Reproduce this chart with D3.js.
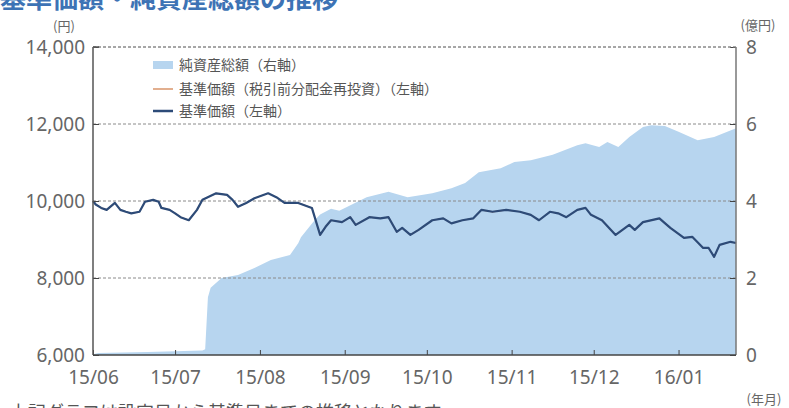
<html>
<head><meta charset="utf-8"></head>
<style>
  html, body { margin: 0; background: #fff; }
  svg { display: block; font-family: "Noto Sans CJK JP", "Noto Sans", sans-serif; }
</style>
<body>
<svg width="789" height="408"></svg>
<script src="https://cdnjs.cloudflare.com/ajax/libs/d3/7.8.5/d3.min.js"></script>
<script>
  // 基準価額（円）
  const navDates = ["2015-06-01","2015-06-02","2015-06-04","2015-06-06","2015-06-09","2015-06-11","2015-06-13","2015-06-15",
    "2015-06-18","2015-06-20","2015-06-23","2015-06-25","2015-06-26","2015-06-29","2015-07-01","2015-07-03","2015-07-06",
    "2015-07-09","2015-07-11","2015-07-16","2015-07-20","2015-07-22","2015-07-24","2015-07-27","2015-07-30","2015-08-04",
    "2015-08-07","2015-08-10","2015-08-15","2015-08-20","2015-08-23","2015-08-25","2015-08-27","2015-08-31","2015-09-03",
    "2015-09-05","2015-09-10","2015-09-14","2015-09-17","2015-09-20","2015-09-22","2015-09-25","2015-09-28","2015-10-03",
    "2015-10-07","2015-10-10","2015-10-14","2015-10-18","2015-10-21","2015-10-25","2015-10-30","2015-11-04","2015-11-08",
    "2015-11-11","2015-11-15","2015-11-18","2015-11-21","2015-11-25","2015-11-28","2015-11-30","2015-12-04","2015-12-09",
    "2015-12-14","2015-12-16","2015-12-19","2015-12-25","2015-12-29","2016-01-03","2016-01-06","2016-01-10","2016-01-12",
    "2016-01-14","2016-01-16","2016-01-20","2016-01-22"];
  const navValues = [10000,9910,9820,9770,9950,9770,9720,9680,
    9720,9980,10030,9980,9820,9770,9680,9580,9500,
    9770,10030,10200,10160,10030,9850,9950,10070,10200,
    10100,9950,9950,9820,9120,9330,9500,9450,9580,
    9380,9580,9550,9580,9200,9300,9120,9250,9500,
    9550,9420,9500,9550,9770,9720,9770,9720,9640,
    9500,9720,9680,9580,9770,9820,9640,9500,9120,
    9380,9250,9450,9550,9300,9040,9070,8780,8780,
    8550,8860,8940,8910];
  // 基準価額（税引前分配金再投資）: 分配なしのため基準価額と同じ
  const navReinvValues = navValues.slice();

  // 純資産総額（億円）
  const assetDates = ["2015-06-01","2015-06-03","2015-06-21","2015-07-11","2015-07-12","2015-07-13","2015-07-14","2015-07-18",
    "2015-07-24","2015-07-30","2015-08-05","2015-08-12","2015-08-15","2015-08-16","2015-08-21","2015-08-23","2015-08-27",
    "2015-08-30","2015-09-09","2015-09-17","2015-09-24","2015-10-03","2015-10-10","2015-10-15","2015-10-20","2015-10-28",
    "2015-11-02","2015-11-08","2015-11-16","2015-11-25","2015-11-28","2015-12-03","2015-12-06","2015-12-10","2015-12-14",
    "2015-12-19","2015-12-22","2015-12-27","2016-01-01","2016-01-08","2016-01-14","2016-01-22"];
  const assetValues = [0.02,0.05,0.08,0.12,0.15,1.5,1.75,2.0,
    2.08,2.26,2.47,2.6,2.9,3.06,3.5,3.65,3.8,
    3.75,4.1,4.24,4.1,4.2,4.33,4.47,4.75,4.85,
    5.01,5.06,5.2,5.45,5.5,5.4,5.53,5.4,5.66,
    5.92,5.97,5.95,5.8,5.58,5.66,5.89];

  const monthTicks = ["2015-06-01","2015-07-01","2015-08-01","2015-09-01","2015-10-01","2015-11-01","2015-12-01","2016-01-01"];
  const leftTicks = [6000, 8000, 10000, 12000, 14000];
  const rightTicks = [0, 2, 4, 6, 8];

  const parse = d3.timeParse("%Y-%m-%d");
  const W = 789, H = 408;
  const m = {top: 47, right: 53, bottom: 53, left: 93};
  const svg = d3.select("svg");

  const x = d3.scaleTime()
      .domain([parse("2015-06-01"), parse("2016-01-22")])
      .range([m.left, W - m.right]);
  const yL = d3.scaleLinear().domain([6000, 14000]).range([H - m.bottom, m.top]);
  const yR = d3.scaleLinear().domain([0, 8]).range([H - m.bottom, m.top]);

  const nav = navDates.map((d, i) => ({date: parse(d), v: navValues[i], r: navReinvValues[i]}));
  const assets = assetDates.map((d, i) => ({date: parse(d), v: assetValues[i]}));

  // title (partly cut off at the top, as in the original)
  svg.append("text").attr("x", 0).attr("y", 8)
      .attr("font-size", 26).attr("font-weight", "bold").attr("fill", "#3d73b5")
      .text("基準価額・純資産総額の推移");

  // area
  svg.append("path").datum(assets)
      .attr("fill", "#b7d5ef")
      .attr("d", d3.area().x(d => x(d.date)).y0(yR(0)).y1(d => yR(d.v)));

  // grid lines
  svg.append("g").selectAll("line").data(leftTicks.slice(1)).join("line")
      .attr("x1", m.left).attr("x2", W - m.right)
      .attr("y1", d => yL(d)).attr("y2", d => yL(d))
      .attr("stroke", "#8a8a8a").attr("stroke-width", 1).attr("stroke-dasharray", "3,2");

  // lines
  svg.append("path").datum(nav)
      .attr("fill", "none").attr("stroke", "#d8946a").attr("stroke-width", 1.2)
      .attr("d", d3.line().x(d => x(d.date)).y(d => yL(d.r)));
  svg.append("path").datum(nav)
      .attr("fill", "none").attr("stroke", "#2d4b78").attr("stroke-width", 2.2)
      .attr("stroke-linejoin", "round")
      .attr("d", d3.line().x(d => x(d.date)).y(d => yL(d.v)));

  // axes
  const axL = svg.append("g").attr("transform", `translate(${m.left},0)`)
      .call(d3.axisLeft(yL).tickValues(leftTicks).tickSize(-6).tickPadding(8).tickFormat(d3.format(",")));
  const axR = svg.append("g").attr("transform", `translate(${W - m.right},0)`)
      .call(d3.axisRight(yR).tickValues(rightTicks).tickSize(-6).tickPadding(10));
  const axB = svg.append("g").attr("transform", `translate(0,${H - m.bottom})`)
      .call(d3.axisBottom(x).tickValues(monthTicks.map(parse)).tickSize(-5).tickPadding(16)
        .tickFormat(d3.timeFormat("%y/%m")));

  [axL, axR, axB].forEach(g => {
    g.selectAll("text").attr("font-size", 19).attr("fill", "#666")
        .attr("font-family", "'Noto Sans', sans-serif");
    g.selectAll("line").attr("stroke", "#444");
    g.select(".domain").remove();
  });

  // frame: solid left/right/bottom, dashed top
  svg.append("line").attr("x1", m.left).attr("x2", m.left).attr("y1", m.top).attr("y2", H - m.bottom)
      .attr("stroke", "#555").attr("stroke-width", 1.5);
  svg.append("line").attr("x1", W - m.right).attr("x2", W - m.right).attr("y1", m.top).attr("y2", H - m.bottom)
      .attr("stroke", "#777").attr("stroke-width", 1.5);
  svg.append("line").attr("x1", m.left).attr("x2", W - m.right).attr("y1", H - m.bottom).attr("y2", H - m.bottom)
      .attr("stroke", "#444").attr("stroke-width", 1.5);
  svg.append("line").attr("x1", m.left).attr("x2", W - m.right).attr("y1", m.top).attr("y2", m.top)
      .attr("stroke", "#888").attr("stroke-width", 1).attr("stroke-dasharray", "3,2");
  svg.append("line").attr("x1", m.left).attr("x2", m.left + 6).attr("y1", m.top).attr("y2", m.top)
      .attr("stroke", "#555").attr("stroke-width", 1.5);

  // unit labels
  const unit = (t, xx, yy) => svg.append("text").attr("x", xx).attr("y", yy)
      .attr("font-size", 13).attr("fill", "#666").attr("text-anchor", "middle").text(t);
  unit("(円)", 64, 31);
  unit("(億円)", 758, 30);
  unit("(年月)", 764, 404);

  // legend
  const lg = svg.append("g").attr("font-size", 14).attr("fill", "#555");
  lg.append("rect").attr("x", 153).attr("y", 61).attr("width", 20).attr("height", 8).attr("fill", "#b7d5ef");
  lg.append("line").attr("x1", 153).attr("x2", 173).attr("y1", 89).attr("y2", 89)
      .attr("stroke", "#d8946a").attr("stroke-width", 1.5);
  lg.append("line").attr("x1", 153).attr("x2", 173).attr("y1", 111).attr("y2", 111)
      .attr("stroke", "#2d4b78").attr("stroke-width", 2.5);
  lg.append("text").attr("x", 179).attr("y", 70).text("純資産総額（右軸）");
  lg.append("text").attr("x", 179).attr("y", 94).text("基準価額（税引前分配金再投資）（左軸）");
  lg.append("text").attr("x", 179).attr("y", 116).text("基準価額（左軸）");

  // footnote (cut off at the bottom, as in the original)
  svg.append("text").attr("x", 10).attr("y", 419).attr("font-size", 18).attr("fill", "#555")
      .text("上記グラフは設定日から基準日までの推移となります");
</script>
</body>
</html>
